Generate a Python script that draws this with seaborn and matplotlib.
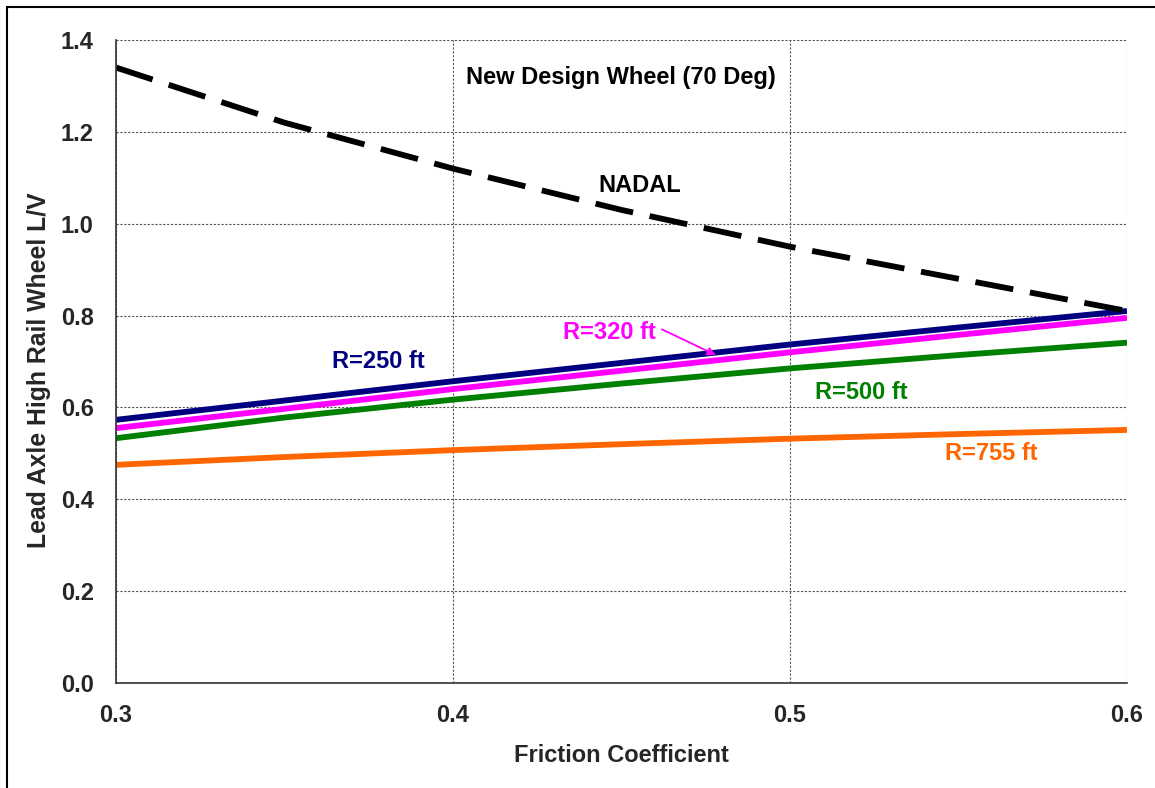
import matplotlib
matplotlib.use("Agg")
import matplotlib.pyplot as plt
from matplotlib.patches import Rectangle
import numpy as np
import pandas as pd
import seaborn as sns

# Friction coefficient values
friction = [0.30, 0.35, 0.40, 0.45, 0.50, 0.55, 0.60]

# Nadal limit for a 70 deg flange angle
nadal = [1.34, 1.22, 1.12, 1.03, 0.95, 0.88, 0.81]

# Lead axle high rail wheel L/V by curve radius
r250 = [0.573, 0.615, 0.657, 0.697, 0.737, 0.774, 0.810]
r320 = [0.555, 0.597, 0.640, 0.680, 0.720, 0.758, 0.795]
r500 = [0.533, 0.578, 0.617, 0.652, 0.685, 0.714, 0.741]
r755 = [0.475, 0.492, 0.507, 0.520, 0.532, 0.542, 0.551]

x_ticks = [0.3, 0.4, 0.5, 0.6]
y_ticks = [0.0, 0.2, 0.4, 0.6, 0.8, 1.0, 1.2, 1.4]

sns.set_style("white")
plt.rcParams["font.family"] = ["Liberation Sans", "DejaVu Sans"]
plt.rcParams["font.weight"] = "bold"

FS = 17

fig = plt.figure(figsize=(11.55, 7.88), dpi=100)
ax = fig.add_axes([116 / 1155, 105 / 788, (1127 - 116) / 1155, (683 - 40) / 788])

# Figure frame
fig.patches.append(Rectangle((7 / 1155, -0.05), 1.2, (788 - 7) / 788 + 0.05,
                             transform=fig.transFigure, fill=False,
                             edgecolor="black", linewidth=1.5, zorder=0))

series = [
    ("R=755 ft", r755, "#FF6600"),
    ("R=500 ft", r500, "#008000"),
    ("R=320 ft", r320, "#FF00FF"),
    ("R=250 ft", r250, "#000080"),
]
for name, vals, color in series:
    df = pd.DataFrame({"mu": friction, "lv": vals})
    sns.lineplot(data=df, x="mu", y="lv", ax=ax, color=color, linewidth=4.2,
                 solid_capstyle="butt")

df_n = pd.DataFrame({"mu": friction, "lv": nadal})
sns.lineplot(data=df_n, x="mu", y="lv", ax=ax, color="black", linewidth=4.2,
             linestyle=(0, (6.6, 2.9)), dash_capstyle="butt")

ax.set_xlim(0.3, 0.6)
ax.set_ylim(0.0, 1.4)
ax.set_xticks(x_ticks)
ax.set_xticklabels([f"{v:.1f}" for v in x_ticks])
ax.set_yticks(y_ticks)
ax.set_yticklabels([f"{v:.1f}" for v in y_ticks])

ax.grid(True, color="#555555", linestyle=(0, (2, 1.5)), linewidth=0.8)
ax.set_axisbelow(True)
for s in ["top", "right"]:
    ax.spines[s].set_visible(False)
for s in ["left", "bottom"]:
    ax.spines[s].set_color("#333333")
    ax.spines[s].set_linewidth(1.2)

ax.tick_params(axis="both", direction="out", length=7, width=1.2, color="#333333",
               labelsize=FS)
ax.tick_params(axis="y", pad=9)
ax.tick_params(axis="x", pad=8)
for lab in ax.get_xticklabels() + ax.get_yticklabels():
    lab.set_fontweight("bold")

ax.set_xlabel("Friction Coefficient", fontsize=FS, fontweight="bold", labelpad=12)
ax.set_ylabel("Lead Axle High Rail Wheel L/V", fontsize=17.8, fontweight="bold")
ax.yaxis.set_label_coords(-0.064, (683 - 370) / (683 - 40))

# Annotations
ax.text(0.4499, 1.318, "New Design Wheel (70 Deg)", fontsize=FS, fontweight="bold",
        ha="center", va="center", color="black")
ax.text(0.4555, 1.083, "NADAL", fontsize=FS, fontweight="bold",
        ha="center", va="center", color="black")
ax.text(0.3780, 0.700, "R=250 ft", fontsize=FS, fontweight="bold",
        ha="center", va="center", color="#000080")
ax.text(0.4463, 0.763, "R=320 ft", fontsize=FS, fontweight="bold",
        ha="center", va="center", color="#FF00FF")
ax.annotate("", xy=(0.4780, 0.714), xytext=(0.4620, 0.770),
            arrowprops=dict(arrowstyle="-|>", color="#FF00FF", lw=1.3,
                            mutation_scale=12, shrinkA=0, shrinkB=0))
ax.text(0.5212, 0.633, "R=500 ft", fontsize=FS, fontweight="bold",
        ha="center", va="center", color="#008000")
ax.text(0.5598, 0.499, "R=755 ft", fontsize=FS, fontweight="bold",
        ha="center", va="center", color="#FF6600")

fig.savefig("out.png", dpi=100)
